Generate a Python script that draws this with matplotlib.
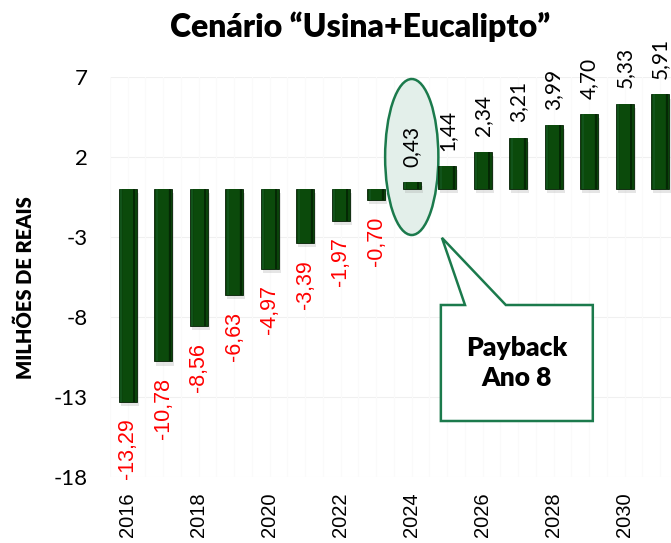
import matplotlib
matplotlib.use("Agg")
import matplotlib.pyplot as plt
from matplotlib.patches import Ellipse, Polygon
import matplotlib.patheffects as pe
import numpy as np

years = list(range(2016, 2032))
values = [-13.29, -10.78, -8.56, -6.63, -4.97, -3.39, -1.97, -0.70,
          0.43, 1.44, 2.34, 3.21, 3.99, 4.70, 5.33, 5.91]
labels = ["-13,29", "-10,78", "-8,56", "-6,63", "-4,97", "-3,39", "-1,97", "-0,70",
          "0,43", "1,44", "2,34", "3,21", "3,99", "4,70", "5,33", "5,91"]
yticks = [7, 2, -3, -8, -13, -18]
xtick_years = [2016, 2018, 2020, 2022, 2024, 2026, 2028, 2030]
title = "Cenário “Usina+Eucalipto”"
ylabel = "MILHÕES DE REAIS"
callout = "Payback\nAno 8"
payback_year = 2024

W, H = 671, 543
fig = plt.figure(figsize=(W / 100, H / 100), dpi=100)
ax = fig.add_axes([110 / W, 1 - 477 / H, (678 - 110) / W, 400 / H])

x = np.arange(len(years))
ax.set_xlim(-0.5, len(years) - 0.5)
ax.set_ylim(-18, 7)

# faint gridlines
for yt in yticks:
    ax.axhline(yt, color="#f0f0f0", lw=0.8, zorder=0)
for xv in np.arange(-0.5, len(years), 0.5):
    ax.axvline(xv, color="#fafafa", lw=0.8, zorder=0)

bw = 0.5
shadow = [pe.SimplePatchShadow(offset=(1.5, -3), shadow_rgbFace="#999999", alpha=0.25), pe.Normal()]
bars = ax.bar(x, values, width=bw, color="#0a440a", edgecolor="#031f03", lw=0.6, zorder=3)
for b in bars:
    b.set_path_effects(shadow)
# bevel imitation
ax.bar(x - bw * 0.37, values, width=bw * 0.12, color="#11531a", lw=0, zorder=4)
ax.bar(x + bw * 0.37, values, width=bw * 0.12, color="#042804", lw=0, zorder=4)
ax.bar(x, values, width=bw * 0.55, color="#0b4a0b", lw=0, zorder=4)

for xi, v, lab in zip(x, values, labels):
    if v < 0:
        ax.annotate(lab, (xi, v), xytext=(0, -12), textcoords="offset points",
                    rotation=90, ha="center", va="top", color="#ff0000",
                    fontsize=15.5, family="Liberation Sans", zorder=6)
    else:
        ax.annotate(lab, (xi, v), xytext=(0, 11), textcoords="offset points",
                    rotation=90, ha="center", va="bottom", color="black",
                    fontsize=15, family="Lato", zorder=6, annotation_clip=False)

ax.set_yticks(yticks)
ax.set_yticklabels([str(t) for t in yticks], family="Lato", fontsize=16)
ax.set_xticks([years.index(y) for y in xtick_years])
ax.set_xticklabels([str(y) for y in xtick_years], rotation=90, family="Liberation Sans", fontsize=14.5)
ax.tick_params(axis="y", length=0, pad=16)
ax.tick_params(axis="x", length=0, pad=11)
for s in ax.spines.values():
    s.set_visible(False)

fig.text(25 / W, 1 - 288 / H, ylabel, rotation=90, ha="center", va="center",
         family="Lato", fontweight="heavy", fontsize=14.5)
fig.text(360 / W, 1 - 27 / H, title, ha="center", va="center",
         family="Lato", fontweight="heavy", fontsize=23)

# ellipse highlight around payback year
pi = years.index(payback_year)
ell = Ellipse((pi, 2.0), width=1.5, height=9.75, facecolor="#e3efea",
              edgecolor="#1b7a4c", lw=1.8, zorder=2, clip_on=False)
ax.add_patch(ell)

# callout box with pointer
tip = (pi + 0.85, -3.05)
bx0, bx1 = pi + 0.82, pi + 5.1
by0, by1 = -14.5, -7.25
poly = Polygon([(bx0, by1), (pi + 1.5, by1), tip, (pi + 2.65, by1),
                (bx1, by1), (bx1, by0), (bx0, by0)], closed=True,
               facecolor="white", edgecolor="#1b7a4c", lw=1.8, zorder=7)
ax.add_patch(poly)
ax.text((bx0 + bx1) / 2, (by0 + by1) / 2, callout, ha="center", va="center",
        family="Lato", fontweight="heavy", fontsize=19, linespacing=1.3, zorder=8)

fig.savefig("out.png", dpi=100)
